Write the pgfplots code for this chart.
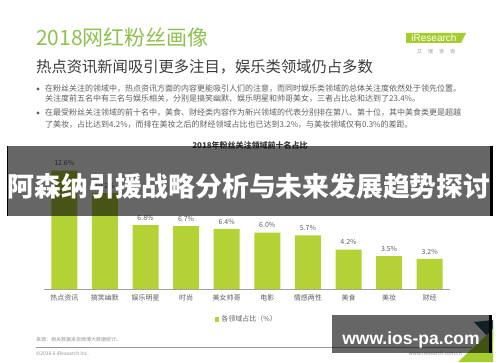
\documentclass[border=0pt]{standalone}
\usepackage{fontspec}
\setmainfont{Noto Sans CJK SC}
\newfontfamily\wmfont{Liberation Sans}
\usepackage{pgfplots}
\pgfplotsset{compat=1.18}
\definecolor{barG}{RGB}{178,210,53}
\definecolor{titG}{RGB}{141,194,79}
\definecolor{logoG}{RGB}{165,205,45}
\definecolor{txtG}{RGB}{95,95,95}
\definecolor{subG}{RGB}{60,60,60}
\definecolor{footG}{RGB}{150,150,150}
\definecolor{teal}{RGB}{40,80,90}
\begin{document}
\begin{tikzpicture}[x=1pt,y=1pt]
\fill[white] (0,0) rectangle (500,362);
\path[use as bounding box] (0,0) rectangle (500,362);
% header
\node[anchor=base west, inner sep=0, text=titG, font=\fontsize{21}{24}\selectfont] at (36,316) {2018网红粉丝画像};
\node[anchor=base west, inner sep=0, text=subG, font=\fontsize{15.3}{18}\selectfont] at (36,289) {热点资讯新闻吸引更多注目，娱乐类领域仍占多数};
% logo
\fill[logoG] (406,329) -- (466,329) -- (461,319) -- (406,319) -- cycle;
\node[inner sep=0, text=white, font=\wmfont\fontsize{10}{11}\selectfont] at (434,324) {iResearch};
\node[inner sep=0, text=footG, font=\fontsize{5}{6}\selectfont] at (436,310) {艾\hspace{6pt}瑞\hspace{6pt}咨\hspace{6pt}询};
% bullets
\fill[txtG] (38,273) circle (1.6);
\fill[txtG] (38,249) circle (1.6);
\begin{scope}[every node/.style={anchor=base west, inner sep=0, text=txtG, font=\fontsize{8}{9}\selectfont}]
\node at (45,270) {在粉丝关注的领域中，热点资讯方面的内容更能吸引人们的注意，而同时娱乐类领域的总体关注度依然处于领先位置。};
\node at (45,260) {关注度前五名中有三名与娱乐相关，分别是搞笑幽默、娱乐明星和帅哥美女，三者占比总和达到了23.4\%。};
\node at (45,246) {在最受粉丝关注领域的前十名中，美食、财经类内容作为新兴领域的代表分别排在第八、第十位，其中美食类更是超越};
\node at (45,234) {了美妆，占比达到4.2\%，而排在美妆之后的财经领域占比也已达到3.2\%，与美妆领域仅有0.3\%的差距。};
\end{scope}
% chart title
\node[inner sep=0, text=subG, font=\bfseries\fontsize{8}{9}\selectfont] at (250,217) {2018年粉丝关注领域前十名占比};
% chart
\begin{axis}[
  at={(44pt,73pt)}, anchor=south west,
  scale only axis, width=406pt, height=131.6pt,
  xmin=-0.5, xmax=9.5, ymin=0, ymax=14,
  axis x line=bottom, axis y line=none,
  axis line style={-, draw={rgb,255:red,160;green,160;blue,160}, line width=0.6pt},
  xtick=data, major tick length=0pt,
  xticklabels={热点资讯,搞笑幽默,娱乐明星,时尚,美女帅哥,电影,情感两性,美食,美妆,财经},
  x tick label style={font=\fontsize{7}{8}\selectfont, text=txtG, yshift=-2pt},
  ybar, bar width=26pt, clip=false,
  nodes near coords={\pgfmathprintnumber[fixed,fixed zerofill,precision=1,assume math mode=true]{\pgfplotspointmeta}\%},
  every node near coord/.append style={font=\fontsize{7}{8}\selectfont, text=txtG, yshift=1pt},
  legend style={at={(0.5,-0.17)}, anchor=north, draw=none, fill=none, font=\fontsize{7}{8}\selectfont, text=txtG},
  legend image code/.code={\fill[barG] (0pt,-2.2pt) rectangle (4.4pt,2.2pt);},
]
\addplot[fill=barG, draw=none] coordinates {(0,12.6) (1,10.2) (2,6.8) (3,6.7) (4,6.4) (5,6.0) (6,5.7) (7,4.2) (8,3.5) (9,3.2)};
\addlegendentry{各领域占比（\%）}
\end{axis}
% footer
\node[anchor=base west, inner sep=0, text=footG, font=\fontsize{5}{6}\selectfont] at (36,21) {来源：相关数据来自微博大数据统计。};
\draw[footG, line width=0.5pt] (36,15) -- (472,15);
\node[anchor=base west, inner sep=0, text=footG, font=\fontsize{5}{6}\selectfont] at (36,7) {©2018.6 iResearch Inc.};
\node[anchor=base east, inner sep=0, text=footG, font=\fontsize{5}{6}\selectfont] at (462,7) {www.iresearch.com.cn};
\node[anchor=base, inner sep=0, text=footG, font=\fontsize{5}{6}\selectfont] at (480,7) {17};
\fill[teal] (474,40) -- (493,20) -- (493,42) -- cycle;
\fill[logoG] (458,0) -- (493,0) -- (493,33) -- cycle;
% banner overlay
\fill[black, opacity=0.6] (7,146) rectangle (490,216);
\fill[black] (7,146) rectangle (8,216);
\fill[black] (490,146) rectangle (493,216);
\node[inner sep=0, text=white, font=\bfseries\fontsize{26.8}{30}\selectfont] at (249,176) {阿森纳引援战略分析与未来发展趋势探讨};
% watermark overlay
\fill[black, opacity=0.6] (332,9) rectangle (489,47);
\fill[black] (489,9) rectangle (492,47);
\node[anchor=base, inner sep=0, text=white, font=\wmfont\bfseries\fontsize{17.5}{20}\selectfont] at (411,18) {www.ios-pa.com};
\end{tikzpicture}
\end{document}
